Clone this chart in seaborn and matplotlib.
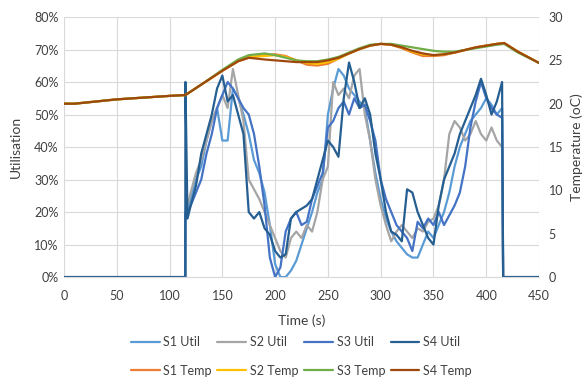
import numpy as np
import pandas as pd
import seaborn as sns
import matplotlib.pyplot as plt
from matplotlib.ticker import FuncFormatter, MultipleLocator

# utilisation samples (percent) between start and stop
active_time = [115, 117] + list(range(120, 420, 5))
s1_util = [20, 21, 24, 30, 34, 42, 48, 52, 42, 42, 58, 55, 50, 44, 36, 32, 26, 16, 4, 0, 0, 2, 5, 10, 15, 20, 26, 30,
           50, 58, 64, 62, 58, 56, 54, 52, 42, 32, 24, 18, 14, 11, 9, 7, 6, 6, 10, 14, 12, 16, 20, 26, 34, 40, 44, 48,
           50, 52, 55, 53, 50, 52]
s2_util = [19, 22, 26, 32, 36, 42, 48, 52, 56, 52, 64, 56, 48, 30, 27, 24, 20, 16, 12, 8, 6, 12, 14, 12, 16, 14, 20, 30,
           34, 60, 56, 58, 55, 62, 64, 50, 42, 30, 22, 16, 11, 14, 16, 14, 12, 15, 14, 17, 18, 22, 30, 44, 48, 46, 42,
           44, 48, 44, 42, 46, 42, 40]
s3_util = [19, 20, 22, 26, 30, 38, 44, 52, 56, 60, 58, 55, 52, 50, 44, 34, 22, 6, 0, 3, 14, 18, 20, 16, 17, 24, 28, 32,
           46, 48, 52, 54, 50, 55, 52, 53, 48, 42, 30, 24, 20, 16, 14, 12, 8, 17, 15, 18, 16, 20, 16, 19, 22, 26, 34,
           46, 54, 60, 55, 52, 50, 49]
s4_util = [60, 18, 22, 28, 38, 44, 50, 58, 62, 54, 56, 50, 44, 20, 18, 20, 15, 13, 8, 6, 7, 18, 20, 21, 22, 24, 30, 36,
           42, 40, 37, 55, 66, 60, 52, 55, 50, 38, 30, 20, 14, 13, 11, 27, 26, 20, 16, 12, 10, 22, 30, 34, 38, 44, 48,
           52, 56, 61, 56, 50, 54, 60]

# temperature (oC)
temp_time = [0, 10, 50, 100, 115, 130, 150, 165, 175, 190, 200, 210, 220, 230, 240, 250, 260, 270, 280, 290, 300, 310,
             320, 330, 340, 350, 360, 370, 380, 390, 400, 410, 417, 430, 450]
s1_temp = [20.0, 20.0, 20.5, 20.9, 21.0, 22.2, 23.8, 24.9, 25.3, 25.6, 25.7, 25.5, 25.0, 24.5, 24.4, 24.6, 25.2, 25.8,
           26.3, 26.7, 26.9, 26.8, 26.4, 25.9, 25.5, 25.5, 25.6, 25.9, 26.2, 26.5, 26.7, 26.9, 27.0, 26.0, 24.7]
s2_temp = [20.0, 20.0, 20.5, 20.9, 21.0, 22.2, 23.8, 24.9, 25.4, 25.5, 25.6, 25.4, 25.0, 24.7, 24.6, 24.8, 25.2, 25.8,
           26.3, 26.7, 26.9, 26.8, 26.5, 26.0, 25.7, 25.6, 25.7, 25.9, 26.2, 26.5, 26.7, 26.9, 27.0, 26.0, 24.7]
s3_temp = [20.0, 20.0, 20.5, 20.9, 21.0, 22.2, 23.9, 25.1, 25.6, 25.8, 25.6, 25.3, 25.0, 24.9, 24.9, 25.1, 25.4, 25.9,
           26.4, 26.8, 26.9, 26.9, 26.7, 26.5, 26.3, 26.1, 26.0, 26.0, 26.2, 26.4, 26.6, 26.8, 26.9, 25.9, 24.7]
s4_temp = [20.0, 20.0, 20.5, 20.9, 21.0, 22.2, 23.8, 24.9, 25.3, 25.1, 25.0, 24.9, 24.8, 24.8, 24.8, 25.0, 25.3, 25.8,
           26.3, 26.7, 26.9, 26.8, 26.5, 26.1, 25.8, 25.6, 25.7, 25.9, 26.2, 26.5, 26.7, 26.9, 27.0, 26.0, 24.7]

util_names = ["S1 Util", "S2 Util", "S3 Util", "S4 Util"]
temp_names = ["S1 Temp", "S2 Temp", "S3 Temp", "S4 Temp"]
util_colors = ["#5B9BD5", "#A5A5A5", "#4472C4", "#255E91"]
temp_colors = ["#ED7D31", "#FFC000", "#70AD47", "#9E480E"]

# idle (0) before start and after stop
util_time = [0, 114.9] + active_time + [416, 450]
util_series = [[0, 0] + s + [0, 0] for s in [s1_util, s2_util, s3_util, s4_util]]
temp_series = [s1_temp, s2_temp, s3_temp, s4_temp]

sns.set_style("white")
plt.rcParams['font.family'] = ['Lato', 'DejaVu Sans']

fig = plt.figure(figsize=(5.84, 3.78), dpi=100)
ax = fig.add_axes([0.1096, 0.267, 0.8134, 0.688])
ax2 = ax.twinx()

lines_u = []
for name, vals, col in zip(util_names, util_series, util_colors):
    sns.lineplot(x=util_time, y=vals, ax=ax, color=col, linewidth=1.6, sort=False, label=name, legend=False)
    lines_u.append(ax.lines[-1])

lines_t = []
for name, vals, col in zip(temp_names, temp_series, temp_colors):
    sns.lineplot(x=temp_time, y=vals, ax=ax2, color=col, linewidth=1.6, sort=False, label=name, legend=False)
    lines_t.append(ax2.lines[-1])

ax.set_xlim(0, 450)
ax.set_ylim(0, 80)
ax2.set_ylim(0, 30)
ax.xaxis.set_major_locator(MultipleLocator(50))
ax.yaxis.set_major_locator(MultipleLocator(10))
ax2.yaxis.set_major_locator(MultipleLocator(5))
ax.yaxis.set_major_formatter(FuncFormatter(lambda v, p: f"{v:.0f}%"))

ax.grid(True, color="#D9D9D9", linewidth=0.8)
ax.set_axisbelow(True)
for a in (ax, ax2):
    for s in a.spines.values():
        s.set_visible(False)
    a.tick_params(length=0, labelsize=9, colors="#404040", pad=4)
ax.tick_params(axis="x", pad=9)
ax2.tick_params(axis="y", pad=7)
ax.spines["bottom"].set_visible(True)
ax.spines["bottom"].set_color("#D9D9D9")

ax.set_xlabel("Time (s)", fontsize=10, color="#404040", labelpad=9)
ax.set_ylabel("Utilisation", fontsize=10, color="#404040", labelpad=9)
ax2.set_ylabel("Temperature (oC)", fontsize=10, color="#404040", labelpad=5)

handles = []
labels = []
for lu, lt, nu, nt in zip(lines_u, lines_t, util_names, temp_names):
    handles += [lu, lt]
    labels += [nu, nt]
fig.legend(handles, labels, loc="upper center", ncol=4, frameon=False, fontsize=9,
           bbox_to_anchor=(0.516, 0.14), handlelength=2.3, handletextpad=0.3, columnspacing=0.45,
           labelspacing=1.3, labelcolor="#404040")

fig.savefig("out.png", dpi=100)
